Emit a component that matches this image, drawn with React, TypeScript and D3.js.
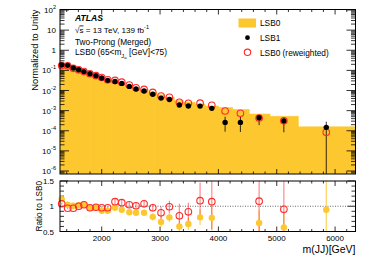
import * as d3 from "d3";

// bin edges and centres in m(JJ) [GeV]
const binEdges = [1270, 1365, 1465, 1560, 1650, 1745, 1850, 1950, 2050, 2160, 2285, 2405, 2530, 2655, 2800, 2945, 3086, 3245, 3400, 3600, 3772, 4000, 4247, 4532, 4887, 5372, 6345];
const binCenters = [1314, 1417, 1513, 1605, 1696, 1799, 1902, 2000, 2103, 2228, 2343, 2473, 2588, 2726, 2875, 3017, 3160, 3331, 3485, 3686, 3887, 4115, 4377, 4698, 5122, 5849];

// normalized distributions
const lsb0 = [0.165, 0.175, 0.131, 0.107, 0.085, 0.07, 0.0556, 0.0458, 0.0352, 0.029, 0.0241, 0.0183, 0.0136, 0.0108, 0.0082, 0.0061, 0.00464, 0.00318, 0.00262, 0.00213, 0.0017, 0.00143, 0.00114, 0.00068, 0.00052, 0.000159];
const lsb1 = [0.185, 0.178, 0.132, 0.108, 0.087, 0.068, 0.054, 0.042, 0.032, 0.028, 0.0225, 0.016, 0.0118, 0.0094, 0.0065, 0.0042, 0.0036, 0.0019, 0.0017, 0.00168, 0.0013, 0.00026, 0.00026, 0.00044, 0.00031, 0.000148];
const lsb1ErrUp = [0, 0, 0, 0, 0, 0, 0, 0, 0, 0, 0, 0, 0, 0, 0, 0, 0, 0, 0.0001, 0.0002, 0.00015, 0.00024, 0.00024, 0.00017, 0.00014, 0.000134];
const lsb1ErrDown = [0, 0, 0, 0, 0, 0, 0, 0, 0, 0, 0, 0, 0, 0, 0, 0, 0, 0, 0.0001, 0.0002, 0.00015, 0.00017, 0.000173, 0.00025, 0.000226, 0.000148];
const lsb0Rw = [0.173, 0.168, 0.126, 0.107, 0.0876, 0.068, 0.0545, 0.0444, 0.0341, 0.0316, 0.0258, 0.0188, 0.0137, 0.0113, 0.008, 0.0053, 0.0046, 0.00258, 0.00233, 0.00236, 0.00185, 0.00096, 0.00074, 0.00043, 0.00031, 0.0000838];

// ratios to LSB0
const ratioLsb1 = [1.14, 1.03, 1.01, 1.02, 1.03, 0.97, 0.98, 0.91, 0.91, 0.97, 0.93, 0.88, 0.87, 0.87, 0.79, 0.69, 0.78, 0.6, 0.65, 0.78, 0.77, null, null, 0.67, 0.58, 0.93];
const ratioLsb1Err = [0.02, 0.02, 0.02, 0.02, 0.02, 0.02, 0.02, 0.03, 0.03, 0.03, 0.04, 0.04, 0.05, 0.05, 0.07, 0.1, 0.09, 0.12, 0.12, 0.15, 0.25, 0, 0, 0.25, 0.3, 0.7];
const ratioRw = [1.05, 0.96, 0.96, 1.0, 1.03, 0.97, 0.98, 0.97, 0.97, 1.09, 1.07, 1.03, 1.01, 1.05, 0.97, 0.87, 0.99, 0.81, 0.89, 1.11, 1.09, null, null, 1.1, 0.94, null];
const ratioRwErr = [0.02, 0.02, 0.02, 0.02, 0.02, 0.03, 0.03, 0.03, 0.03, 0.07, 0.07, 0.06, 0.06, 0.08, 0.08, 0.12, 0.12, 0.24, 0.18, 0.36, 0.55, 0, 0, 0.7, 0.6, 0];

const massTicks = [2000, 3000, 4000, 5000, 6000];
const decadeTicks = [-6, -5, -4, -3, -2, -1, 0, 1, 2];
const ratioTicks = [0.5, 1, 1.5];

const YELLOW = "#fdc82f";
const RED = "#ff2a2a";
const FONT = "Liberation Sans, Arial, Helvetica, sans-serif";

const L = 60, R = 355.5;
const T1 = 9.5, B1 = 174;
const T2 = 181, B2 = 231.5;

const x = d3.scaleLinear().domain([1285, 6350]).range([L, R]);
const y = d3.scaleLog().domain([7.1e-7, 106]).range([B1, T1]);
const yr = d3.scaleLinear().domain([0.5, 1.5]).range([B2, T2]);

const minorMass = d3.range(1400, 6400, 200).filter((m) => m % 1000 !== 0);
const minorLog: number[] = [];
decadeTicks.concat([-7]).forEach((d) => {
  for (let k = 2; k <= 9; k++) {
    const v = k * Math.pow(10, d);
    if (v > 7.1e-7 && v < 106) minorLog.push(v);
  }
});
const minorRatio = d3.range(0.6, 1.5, 0.1).filter((v) => Math.abs(v - 1) > 0.01);

function expLabel(d: number) {
  if (d === 0) return <tspan>1</tspan>;
  if (d === 1) return <tspan>10</tspan>;
  return (
    <>
      <tspan>10</tspan>
      <tspan dy={-4} fontSize={5.6}>{d}</tspan>
    </>
  );
}

export default function App() {
  const histPath = (() => {
    let p = "";
    lsb0.forEach((v, i) => {
      const x0 = x(binEdges[i]), x1 = x(binEdges[i + 1]);
      p += `M${x0},${B1}V${y(v)}H${x1}V${B1}Z`;
    });
    return p;
  })();

  return (
    <svg width={374} height={268} style={{ position: "absolute", left: 0, top: 0, background: "#fff" }} fontFamily={FONT}>
      <defs>
        <clipPath id="top">
          <rect x={L} y={T1} width={R - L} height={B1 - T1} />
        </clipPath>
        <clipPath id="bot">
          <rect x={L} y={T2} width={R - L} height={B2 - T2} />
        </clipPath>
      </defs>

      {/* main panel */}
      <g clipPath="url(#top)">
        <path d={histPath} fill={YELLOW} stroke={YELLOW} strokeWidth={0.5} />
        {lsb1.map((v, i) => (
          <line key={i} x1={x(binCenters[i])} x2={x(binCenters[i])}
            y1={y(v + lsb1ErrUp[i])} y2={v - lsb1ErrDown[i] > 0 ? y(v - lsb1ErrDown[i]) : B1}
            stroke="#000" strokeWidth={1} opacity={0.8} />
        ))}
      </g>
      {lsb0Rw.map((v, i) => (
        <circle key={i} cx={x(binCenters[i])} cy={y(v)} r={3.3} fill="none" stroke={RED} strokeWidth={1.1} />
      ))}
      {lsb1.map((v, i) => (
        <circle key={i} cx={x(binCenters[i])} cy={y(v)} r={2.7} fill="#000" />
      ))}

      {/* axis ticks, ROOT style inside the frame */}
      <g stroke="#000" strokeWidth={0.8}>
        {decadeTicks.map((d) => (
          <g key={d}>
            <line x1={L} x2={L + 9} y1={y(Math.pow(10, d))} y2={y(Math.pow(10, d))} />
            <line x1={R - 9} x2={R} y1={y(Math.pow(10, d))} y2={y(Math.pow(10, d))} />
          </g>
        ))}
        {minorLog.map((v, i) => (
          <g key={i}>
            <line x1={L} x2={L + 4.5} y1={y(v)} y2={y(v)} />
            <line x1={R - 4.5} x2={R} y1={y(v)} y2={y(v)} />
          </g>
        ))}
        {massTicks.map((m) => (
          <g key={m}>
            <line x1={x(m)} x2={x(m)} y1={B1} y2={B1 - 5} />
            <line x1={x(m)} x2={x(m)} y1={T1} y2={T1 + 5} />
            <line x1={x(m)} x2={x(m)} y1={B2} y2={B2 - 5} />
            <line x1={x(m)} x2={x(m)} y1={T2} y2={T2 + 5} />
          </g>
        ))}
        {minorMass.map((m) => (
          <g key={m}>
            <line x1={x(m)} x2={x(m)} y1={B1} y2={B1 - 2.5} />
            <line x1={x(m)} x2={x(m)} y1={T1} y2={T1 + 2.5} />
            <line x1={x(m)} x2={x(m)} y1={B2} y2={B2 - 2.5} />
            <line x1={x(m)} x2={x(m)} y1={T2} y2={T2 + 2.5} />
          </g>
        ))}
        {ratioTicks.map((v) => (
          <g key={v}>
            <line x1={L} x2={L + 8} y1={yr(v)} y2={yr(v)} />
            <line x1={R - 8} x2={R} y1={yr(v)} y2={yr(v)} />
          </g>
        ))}
        {minorRatio.map((v, i) => (
          <g key={i}>
            <line x1={L} x2={L + 4} y1={yr(v)} y2={yr(v)} />
            <line x1={R - 4} x2={R} y1={yr(v)} y2={yr(v)} />
          </g>
        ))}
      </g>
      <rect x={L} y={T1} width={R - L} height={B1 - T1} fill="none" stroke="#000" strokeWidth={1} />

      {/* y labels main */}
      <g fontSize={8} textAnchor="end" fill="#000">
        {decadeTicks.map((d) => (
          <text key={d} x={56} y={y(Math.pow(10, d)) + 3}>{expLabel(d)}</text>
        ))}
      </g>
      <text transform={`translate(37.5,${T1}) rotate(-90)`} textAnchor="end" fontSize={9.3}>Normalized to Unity</text>

      {/* ATLAS label */}
      <text x={75} y={20.5} fontSize={8.6} fontWeight="bold" fontStyle="italic">ATLAS</text>
      <text x={75} y={32.5} fontSize={8.1}>
        <tspan>√</tspan><tspan textDecoration="overline">s</tspan>
        <tspan> = 13 TeV,  139 fb</tspan>
        <tspan dy={-3.5} fontSize={5.6}>-1</tspan>
      </text>
      <text x={75} y={44.5} fontSize={8.3}>Two-Prong (Merged)</text>
      <text x={75} y={55} fontSize={8.3}>
        <tspan>LSB0 (65&lt;m</tspan>
        <tspan dy={2.5} fontSize={5.8}>J</tspan>
        <tspan dy={1.5} fontSize={4.2}>a</tspan>
        <tspan dy={-4} fontSize={8.3}> [GeV]&lt;75)</tspan>
      </text>

      {/* legend */}
      <rect x={238.5} y={18.5} width={17.5} height={9} fill={YELLOW} />
      <text x={260} y={26} fontSize={8.3}>LSB0</text>
      <circle cx={247.5} cy={37.7} r={2.4} fill="#000" />
      <text x={260} y={41} fontSize={8.3}>LSB1</text>
      <circle cx={247.5} cy={52.3} r={3.2} fill="none" stroke={RED} strokeWidth={1.1} />
      <text x={260} y={55.5} fontSize={8.3}>LSB0 (reweighted)</text>

      {/* ratio panel */}
      <line x1={L} x2={R} y1={yr(1)} y2={yr(1)} stroke="#444" strokeWidth={0.8} strokeDasharray="1,1.5" />
      <g clipPath="url(#bot)">
        {ratioLsb1.map((v, i) => v === null ? null : (
          <line key={i} x1={x(binCenters[i])} x2={x(binCenters[i])} y1={yr(v + ratioLsb1Err[i])} y2={yr(v - ratioLsb1Err[i])}
            stroke={YELLOW} strokeWidth={1.2} opacity={0.8} />
        ))}
        {ratioRw.map((v, i) => v === null ? null : (
          <line key={i} x1={x(binCenters[i])} x2={x(binCenters[i])} y1={yr(v + ratioRwErr[i])} y2={yr(v - ratioRwErr[i])}
            stroke={RED} strokeWidth={1.2} opacity={0.55} />
        ))}
      </g>
      {ratioLsb1.map((v, i) => v === null ? null : (
        <circle key={i} cx={x(binCenters[i])} cy={yr(v)} r={3.2} fill={YELLOW} />
      ))}
      {ratioRw.map((v, i) => v === null ? null : (
        <circle key={i} cx={x(binCenters[i])} cy={yr(v)} r={3.3} fill="none" stroke={RED} strokeWidth={1.1} />
      ))}
      <rect x={L} y={T2} width={R - L} height={B2 - T2} fill="none" stroke="#000" strokeWidth={1} />

      <g fontSize={8} textAnchor="end">
        {ratioTicks.map((v) => (
          <text key={v} x={54} y={yr(v) + 3}>{v}</text>
        ))}
      </g>
      <text transform={`translate(42,${T2}) rotate(-90)`} textAnchor="end" fontSize={8.2}>Ratio to LSB0</text>

      <g fontSize={8} textAnchor="middle">
        {massTicks.map((m) => (
          <text key={m} x={x(m)} y={241}>{m}</text>
        ))}
      </g>
      <text x={R} y={253} textAnchor="end" fontSize={10.5}>m(JJ)[GeV]</text>
    </svg>
  );
}
